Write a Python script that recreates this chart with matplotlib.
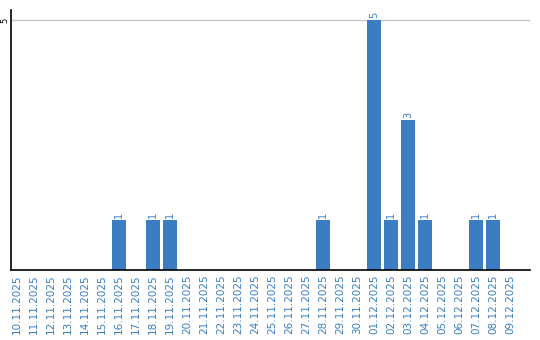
import matplotlib.pyplot as plt

# daily counts, 10.11.2025 - 09.12.2025
dates = ["10.11.2025", "11.11.2025", "12.11.2025", "13.11.2025", "14.11.2025",
         "15.11.2025", "16.11.2025", "17.11.2025", "18.11.2025", "19.11.2025",
         "20.11.2025", "21.11.2025", "22.11.2025", "23.11.2025", "24.11.2025",
         "25.11.2025", "26.11.2025", "27.11.2025", "28.11.2025", "29.11.2025",
         "30.11.2025", "01.12.2025", "02.12.2025", "03.12.2025", "04.12.2025",
         "05.12.2025", "06.12.2025", "07.12.2025", "08.12.2025", "09.12.2025"]
counts = [0, 0, 0, 0, 0, 0, 1, 0, 1, 1,
          0, 0, 0, 0, 0, 0, 0, 0, 1, 0,
          0, 5, 1, 3, 1, 0, 0, 1, 1, 0]

blue = "#3a7dc2"

fig = plt.figure(figsize=(5.4, 3.4), dpi=100)
ax = fig.add_axes([11 / 540, 70 / 340, 519 / 540, 260 / 340])

x = list(range(len(dates)))
ax.bar(x, counts, width=0.82, color=blue, zorder=2)

for i, c in enumerate(counts):
    if c > 0:
        ax.text(i, c + 0.04, str(c), rotation=90, ha="center", va="bottom",
                fontsize=7, color=blue)

ax.set_xlim(-0.32, 30.15)
ax.set_ylim(0, 5.2)
ax.set_yticks([5])
ax.set_yticklabels(["5"], rotation=90, va="center", fontsize=6)
ax.axhline(5, color="#c8c8c8", lw=1, zorder=1)

ax.set_xticks(x)
ax.set_xticklabels(dates, rotation=90, fontsize=7.5, color=blue)
ax.tick_params(axis="both", length=0, pad=3)
ax.tick_params(axis="y", pad=1)

for s in ["top", "right"]:
    ax.spines[s].set_visible(False)
ax.spines["left"].set_linewidth(1.2)
ax.spines["bottom"].set_linewidth(1.2)

fig.savefig("out.png", dpi=100)
